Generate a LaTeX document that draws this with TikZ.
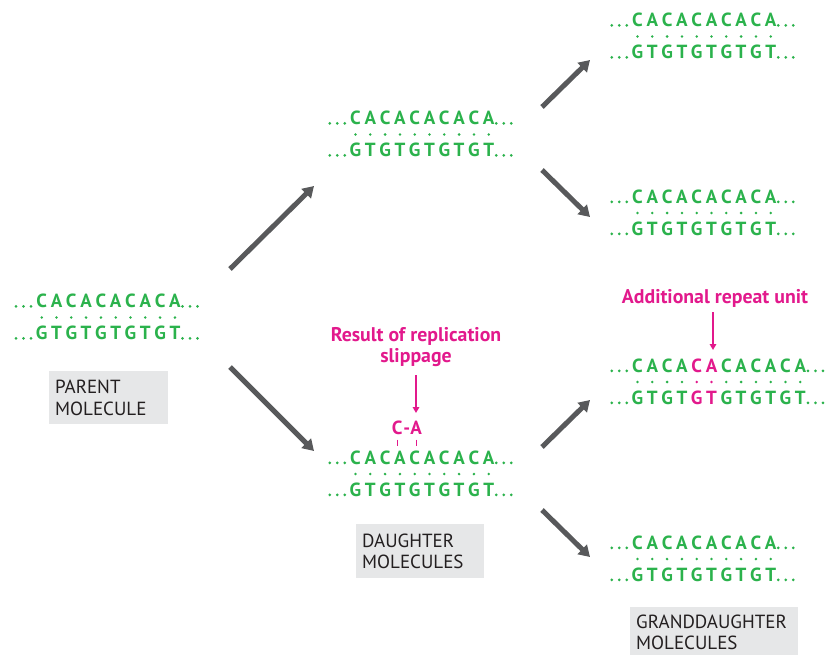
\documentclass[tikz,border=0pt]{standalone}
\usepackage{fontspec}
\setmainfont{PT Sans}
\usetikzlibrary{arrows.meta}
\definecolor{dnagreen}{HTML}{2BB24C}
\definecolor{mag}{HTML}{E2198C}
\definecolor{arrowgray}{HTML}{58595B}
\definecolor{boxgray}{HTML}{E6E7E8}
\definecolor{labeltext}{HTML}{231F20}
\tikzset{
  seqletter/.style={anchor=base, inner sep=0pt, font=\bfseries\fontsize{19}{19}\selectfont},
  graybox/.style={anchor=north west, fill=boxgray, inner xsep=6pt, inner ysep=3pt,
     align=left, text=labeltext, font=\fontsize{19}{21.5}\selectfont},
  maglabel/.style={text=mag, align=center, inner sep=0pt, font=\bfseries\fontsize{19.8}{21}\selectfont},
  grayarrow/.style={draw=arrowgray, line width=5pt, -{Triangle[length=11pt,width=13pt]}},
  magarrow/.style={draw=mag, line width=1.8pt, -{Triangle[length=6pt,width=6.5pt]}},
}
% name, x0, ytop, n, pinkA, pinkB
\newcommand{\seqpair}[6]{%
  \foreach \i in {1,...,#4} {%
    \pgfmathsetmacro\xx{#2+(\i-1)*14.8}%
    \pgfmathtruncatemacro\pk{(\i==#5)||(\i==#6)}%
    \pgfmathtruncatemacro\od{mod(\i,2)}%
    \ifnum\pk=1 \def\cc{mag}\else\def\cc{dnagreen}\fi
    \ifnum\od=1 \def\tl{C}\def\bl{G}\else\def\tl{A}\def\bl{T}\fi
    \node[seqletter, text=\cc] (#1-t\i) at (\xx,#3+6.4) {\tl};
    \node[seqletter, text=\cc] (#1-b\i) at (\xx,#3+38.4) {\bl};
    \fill[\cc] (\xx,#3+16) circle[radius=1.4];
  }
  \pgfmathsetmacro\xl{#2+(#4-1)*14.8}%
  \foreach \d in {25.7,18.2,10.7} {
    \fill[dnagreen] (#2-\d,#3+4.9) circle[radius=1.5];
    \fill[dnagreen] (#2-\d,#3+36.9) circle[radius=1.5];
  }
  \foreach \d in {7.6,15.1,22.6} {
    \fill[dnagreen] (\xl+\d,#3+4.9) circle[radius=1.5];
    \fill[dnagreen] (\xl+\d,#3+36.9) circle[radius=1.5];
  }
}
\begin{document}
\begin{tikzpicture}[x=1pt,y=-1pt]
\useasboundingbox (0,0) rectangle (832,654);

% sequences
\seqpair{parent}{41.7}{301.5}{10}{0}{0}
\seqpair{d1}{355.5}{118.5}{10}{0}{0}
\seqpair{d2}{355.5}{458}{10}{0}{0}
\seqpair{g1}{637.5}{20.5}{10}{0}{0}
\seqpair{g2}{637.5}{197}{10}{0}{0}
\seqpair{g3}{637.5}{366}{12}{5}{6}
\seqpair{g4}{637.5}{543}{10}{0}{0}

% slipped C-A
\node[seqletter, text=mag] (slipC) at (397.3,434.4) {C};
\node[seqletter, text=mag] (slipH) at (406.7,434.4) {-};
\node[seqletter, text=mag] (slipA) at (416,434.4) {A};
\draw[mag, line width=0.9pt] (397.3,439.5) -- (397.3,445.5);
\draw[mag, line width=0.9pt] (416,439.5) -- (416,445.5);

% labels
\node[maglabel] (slip) at (416,347) {Result of replication\\slippage};
\node[maglabel, anchor=base] (addl) at (715,303) {Additional repeat unit};
\coordinate (m1a) at (416,375);
\coordinate (m1b) at (416,413);
\coordinate (m2a) at (713,312);
\coordinate (m2b) at (713,350);
\draw[magarrow] (m1a) -- (m1b);
\draw[magarrow] (m2a) -- (m2b);

% gray boxes
\node[graybox, text width=107pt, minimum height=53pt] (parentlbl) at (49,371) {PARENT\\MOLECULE};
\node[graybox, text width=116pt, minimum height=54pt] (daughterlbl) at (356,524) {DAUGHTER\\MOLECULES};
\node[graybox, text width=156pt, minimum height=50pt] (grandlbl) at (630,607) {GRANDDAUGHTER\\MOLECULES};

% gray arrows
\coordinate (a1s) at (230,269);   \coordinate (a1e) at (314,186);
\coordinate (a2s) at (230,367);   \coordinate (a2e) at (314,451);
\coordinate (a3s) at (542,107);   \coordinate (a3e) at (590,60);
\coordinate (a4s) at (542,170);   \coordinate (a4e) at (590,217);
\coordinate (a5s) at (542,447);   \coordinate (a5e) at (590,400);
\coordinate (a6s) at (542,510);   \coordinate (a6e) at (590,557);
\draw[grayarrow] (a1s) -- (a1e);
\draw[grayarrow] (a2s) -- (a2e);
\draw[grayarrow] (a3s) -- (a3e);
\draw[grayarrow] (a4s) -- (a4e);
\draw[grayarrow] (a5s) -- (a5e);
\draw[grayarrow] (a6s) -- (a6e);
\end{tikzpicture}
\end{document}
